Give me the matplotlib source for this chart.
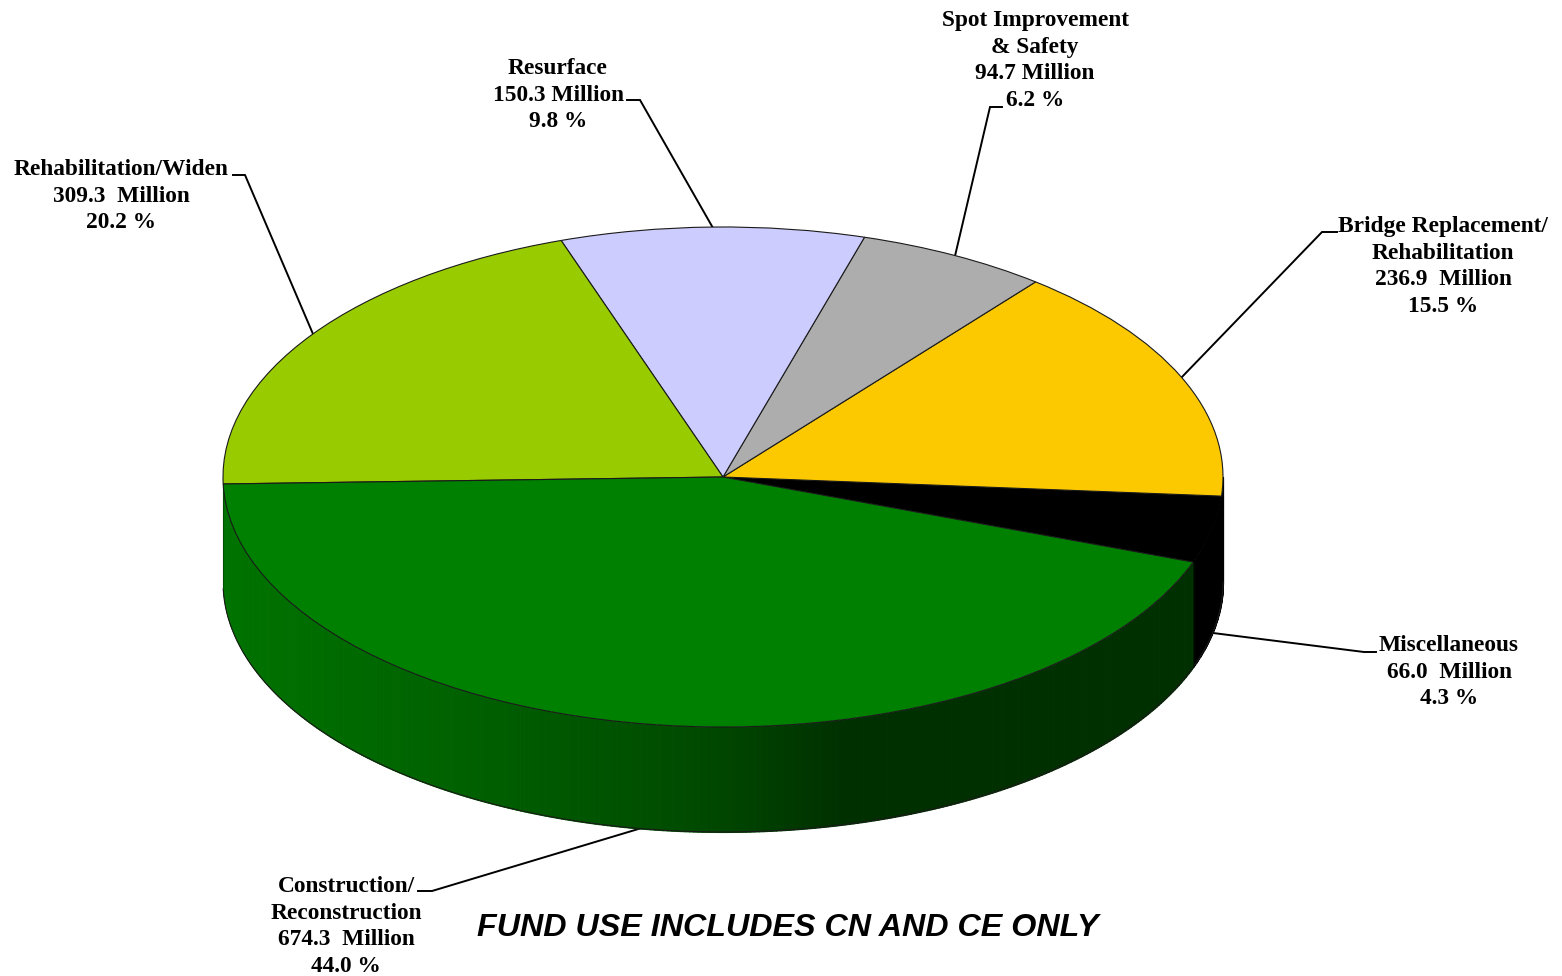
import numpy as np
import matplotlib
matplotlib.use("Agg")
import matplotlib.pyplot as plt

# ---- data ----
categories = ["Miscellaneous", "Bridge Replacement/\nRehabilitation", "Spot Improvement\n& Safety",
              "Resurface", "Rehabilitation/Widen", "Construction/\nReconstruction"]
values = [66.0, 236.9, 94.7, 150.3, 309.3, 674.3]
percents = ["4.3", "15.5", "6.2", "9.8", "20.2", "44.0"]
value_gaps = ["  ", "  ", " ", " ", "  ", "  "]
colors = ["#000000", "#FCC900", "#ADADAD", "#CCCCFF", "#99CC00", "#008000"]
note = "FUND USE INCLUDES CN AND CE ONLY"

# ---- layout (pixels in the 1562x976 picture) ----
W, H = 1562, 976
CX, CY, RX, RY, DEPTH = 723.0, 477.0, 500.0, 250.0, 105.0
START = -19.9

fig = plt.figure(figsize=(W / 100, H / 100), dpi=100, facecolor="white")
ax = fig.add_axes([0, 0, 1, 1])


def px(x, y):
    """pixel position -> data coordinates, unit circle = pie top"""
    return (np.asarray(x, float) - CX) / RX, (CY - np.asarray(y, float)) / RY


depth = DEPTH / RY
fracs = np.array(values) / np.sum(values)
edges = START + 360 * np.concatenate([[0], np.cumsum(fracs)])
green_a0, green_a1 = edges[5], edges[6]   # construction wedge: about 181.7 .. 340.1 deg

# side wall shading along the horizontal position
shade_x = [223, 450, 700, 850, 1225]
shade_g = [115, 98, 74, 47, 47]


def wall(a0, a1, color=None):
    n = max(2, int(abs(a1 - a0) * 2))
    bands = np.linspace(a0, a1, n + 1)
    for b0, b1 in zip(bands[:-1], bands[1:]):
        t = np.radians(np.linspace(b0, b1, 5))
        x, y = np.cos(t), np.sin(t)
        if color is None:
            g = np.interp(CX + RX * x.mean(), shade_x, shade_g) / 255
            c = (0, g, 0)
        else:
            c = color
        ax.fill_between(x, y, y - depth, facecolor=c, edgecolor=c, lw=0.8, antialiased=False, zorder=2)


# black wedge wall then green construction wall
wall(green_a1, 360, "#000000")
wall(green_a0, green_a1)

t = np.radians(np.linspace(green_a0, 360, 400))
ax.plot(np.cos(t), np.sin(t) - depth, color="#1a1a1a", lw=0.8, zorder=3)
t1 = np.radians(green_a1)
ax.plot([np.cos(t1)] * 2, [np.sin(t1), np.sin(t1) - depth], color="#001800", lw=0.7, zorder=3)
t0 = np.radians(green_a0)
ax.plot([np.cos(t0)] * 2, [np.sin(t0), np.sin(t0) - depth], color="#005000", lw=0.8, zorder=3)
ax.plot([1, 1], [np.sin(np.radians(edges[1])), -depth], color="#8a8a8a", lw=0.8, zorder=1.5)

wedges, _ = ax.pie(values, colors=colors, startangle=START, counterclock=True, radius=1.0,
                   wedgeprops=dict(edgecolor="#1a1a1a", linewidth=0.8))
for w in wedges:
    w.set_zorder(4)
wedges[0].set_edgecolor("#000000")
wedges[0].set_zorder(3.5)

ax.set_aspect("auto")
ax.set_xlim((0 - CX) / RX, (W - CX) / RX)
ax.set_ylim((CY - H) / RY, CY / RY)
ax.axis("off")

# ---- labels and leader lines ----
label_pos = [(1449, 635), (1443, 216), (1035, 10), (558, 58), (121, 159), (346, 876)]
leaders = [
    [(1376, 652), (1364, 652), (1213, 633)],
    [(1337, 232), (1322, 232), (1181, 378)],
    [(1002, 107), (990, 107), (955, 256)],
    [(627, 100), (640, 100), (713, 228)],
    [(233, 175), (245, 175), (313, 334)],
    [(418, 891), (432, 891), (645, 827)],
]
for name, val, pct, gap, pos, line in zip(categories, values, percents, value_gaps, label_pos, leaders):
    txt = f"{name}\n{val:.1f}{gap}Million\n{pct} %"
    lx, ly = px(*pos)
    ax.text(lx, ly, txt, ha="center", va="top", ma="center",
            family="Liberation Serif", weight="bold", fontsize=16.8, linespacing=1.35,
            color="#000000", zorder=6)
    xs, ys = zip(*line)
    dx, dy = px(xs, ys)
    ax.plot(dx, dy, color="black", lw=1.4, zorder=1, solid_joinstyle="miter")

nx, ny = px(788, 928)
ax.text(nx, ny, note, ha="center", va="center", family="Liberation Sans", weight="bold",
        style="italic", fontsize=23.2, color="black", zorder=6)

fig.savefig("out.png", dpi=100, facecolor="white")
